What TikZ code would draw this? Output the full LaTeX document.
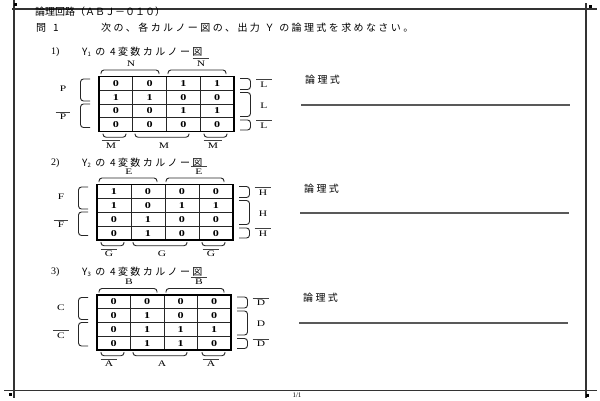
\documentclass[tikz,border=0pt]{standalone}
\usepackage{fontspec}
\setmainfont{Liberation Serif}
\newfontfamily\jp{Noto Sans CJK JP}
\newfontfamily\jpw[LetterSpace=24]{Noto Sans CJK JP}
\tikzset{
  frame/.style={draw=black!80,line width=1.3pt},
  ansline/.style={draw=black!65,line width=1.1pt},
  cell/.style={draw=black!85,line width=0.6pt},
  outer/.style={draw=black,line width=1.1pt},
  brace/.style={draw=black!85,line width=0.9pt,rounded corners=3pt},
  digit/.style={inner sep=0pt,font=\fontsize{9}{9}\selectfont\bfseries},
  lab/.style={inner sep=0pt,font=\fontsize{8.5}{8.5}\selectfont},
  ovl/.style={draw=black!75,line width=0.6pt},
  jptext/.style={inner sep=0pt,anchor=west,font=\fontsize{10}{10}\selectfont}
}
\newcommand\wide[1]{\scalebox{1.35}[1]{#1}}
\newcommand\olab[4]{\node[lab] (#1) at ({#2},{#3}) {\wide{#4}};
  \draw[ovl] ([xshift=-4pt,yshift=1.8pt]#1.north west) -- ([xshift=4pt,yshift=1.8pt]#1.north east);}
% #1 x0 #2 y0 #3 w #4 h #5 values #6 top #7 left #8 right #9 bottom
\newcommand\kmap[9]{%
  \pgfmathsetmacro\X{#1}\pgfmathsetmacro\Y{#2}\pgfmathsetmacro\W{#3}\pgfmathsetmacro\H{#4}
  \pgfmathsetmacro\cw{\W/4}\pgfmathsetmacro\ch{\H/4}
  \foreach \i in {1,2,3}{
    \draw[cell] ({\X+\i*\cw},\Y) -- ({\X+\i*\cw},{\Y+\H});
    \draw[cell] (\X,{\Y+\i*\ch}) -- ({\X+\W},{\Y+\i*\ch});}
  \draw[outer] (\X,\Y) rectangle ({\X+\W},{\Y+\H});
  \foreach \v [count=\k from 0] in {#5}{
    \pgfmathtruncatemacro\r{floor(\k/4)}\pgfmathtruncatemacro\c{\k-4*\r}
    \node[digit] (#6v\k) at ({\X+(\c+0.5)*\cw},{\Y+(\r+0.5)*\ch}) {\wide{\v}};}
  % top
  \draw[brace] ({\X+2},{\Y-2.5}) -- ({\X+2},{\Y-6.5}) -- ({\X+60},{\Y-6.5}) -- ({\X+60},{\Y-2.5});
  \draw[brace] ({\X+69},{\Y-2.5}) -- ({\X+69},{\Y-6.5}) -- ({\X+127},{\Y-6.5}) -- ({\X+127},{\Y-2.5});
  \node[lab] (#6t1) at ({\X+32},{\Y-13}) {\wide{#6}};
  \olab{#6t2}{\X+102}{\Y-13}{#6}
  % left
  \draw[brace] ({\X-9},{\Y+2.5}) -- ({\X-18.5},{\Y+2.5}) -- ({\X-18.5},{\Y+24.5}) -- ({\X-9},{\Y+24.5});
  \draw[brace] ({\X-9},{\Y+27.5}) -- ({\X-18.5},{\Y+27.5}) -- ({\X-18.5},{\Y+51}) -- ({\X-9},{\Y+51});
  \node[lab] (#7l1) at ({\X-36},{\Y+12.5}) {\wide{#7}};
  \olab{#7l2}{\X-36}{\Y+40.5}{#7}
  % right
  \draw[brace] ({\X+\W+6},{\Y+2}) -- ({\X+\W+16.5},{\Y+2}) -- ({\X+\W+16.5},{\Y+13}) -- ({\X+\W+6},{\Y+13});
  \draw[brace] ({\X+\W+6},{\Y+16}) -- ({\X+\W+16.5},{\Y+16}) -- ({\X+\W+16.5},{\Y+40}) -- ({\X+\W+6},{\Y+40});
  \draw[brace] ({\X+\W+6},{\Y+43.5}) -- ({\X+\W+16.5},{\Y+43.5}) -- ({\X+\W+16.5},{\Y+53.5}) -- ({\X+\W+6},{\Y+53.5});
  \olab{#8r1}{\X+\W+30}{\Y+8}{#8}
  \node[lab] (#8r2) at ({\X+\W+30},{\Y+29}) {\wide{#8}};
  \olab{#8r3}{\X+\W+30}{\Y+49}{#8}
  % bottom
  \draw[brace] ({\X+4},{\Y+\H+2}) -- ({\X+4},{\Y+\H+5.7}) -- ({\X+27},{\Y+\H+5.7}) -- ({\X+27},{\Y+\H+2});
  \draw[brace] ({\X+36},{\Y+\H+2}) -- ({\X+36},{\Y+\H+5.7}) -- ({\X+90},{\Y+\H+5.7}) -- ({\X+90},{\Y+\H+2});
  \draw[brace] ({\X+105},{\Y+\H+2}) -- ({\X+105},{\Y+\H+5.7}) -- ({\X+128},{\Y+\H+5.7}) -- ({\X+128},{\Y+\H+2});
  \olab{#9b1}{\X+12}{\Y+\H+14}{#9}
  \node[lab] (#9b2) at ({\X+65},{\Y+\H+14}) {\wide{#9}};
  \olab{#9b3}{\X+114}{\Y+\H+14}{#9}
}
\begin{document}
\begin{tikzpicture}[x=1pt,y=-1pt]
\useasboundingbox (0,0) rectangle (600,400);
\fill[white] (0,0) rectangle (600,400);
% page frame
\draw[frame] (12,9) -- (597,9);
\draw[frame] (14,0) -- (14,398);
\draw[frame] (586,3) -- (586,398);
\draw[frame] (4,390.5) -- (597,390.5);
\fill[black] (14,2.5) rectangle (17,5.5);
\fill[black] (589,4.5) rectangle (592,7.5);
\fill[black] (9,392.5) rectangle (12,395.5);
\fill[black] (586,393.5) rectangle (589,396.5);
% header
\node[jptext] (hdr) at (35,12) {\jp 論理回路（ＡＢＪ－０１０）};
\node[jptext] (q1) at (36,28) {\jp 問\hspace{7pt}1};
\node[jptext] (q1t) at (101,28) {\jpw 次の、各カルノー図の、出力 Ｙ の論理式を求めなさい。};
% section 1
\node[jptext] (s1) at (51,52) {1)};
\node[jptext] (s1t) at (82,52) {\jpw Y\raisebox{-1pt}{\fontsize{6}{6}\selectfont 1} の 4変数カルノー図};
\node[jptext] (a1) at (305,80) {\jpw 論理式};
\draw[ansline] (301,105) -- (570,105);
\kmap{99}{76.5}{135}{55}{0,0,1,1,1,1,0,0,0,0,1,1,0,0,0,0}{N}{P}{L}{M}
% section 2
\node[jptext] (s2) at (51,163) {2)};
\node[jptext] (s2t) at (82,163) {\jpw Y\raisebox{-1pt}{\fontsize{6}{6}\selectfont 2} の 4変数カルノー図};
\node[jptext] (a2) at (304,189) {\jpw 論理式};
\draw[ansline] (300,213) -- (569,213);
\kmap{97}{184.5}{136}{55.5}{1,0,0,0,1,0,1,1,0,1,0,0,0,1,0,0}{E}{F}{H}{G}
% section 3
\node[jptext] (s3) at (51,272) {3)};
\node[jptext] (s3t) at (82,272) {\jpw Y\raisebox{-1pt}{\fontsize{6}{6}\selectfont 3} の 4変数カルノー図};
\node[jptext] (a3) at (303,298) {\jpw 論理式};
\draw[ansline] (299,323) -- (568,323);
\kmap{97}{295}{134}{55}{0,0,0,0,0,1,0,0,0,1,1,1,0,1,1,0}{B}{C}{D}{A}
% footer
\node[inner sep=0pt,font=\fontsize{7}{7}\selectfont] (pg) at (297,395) {1/1};
\end{tikzpicture}
\end{document}
